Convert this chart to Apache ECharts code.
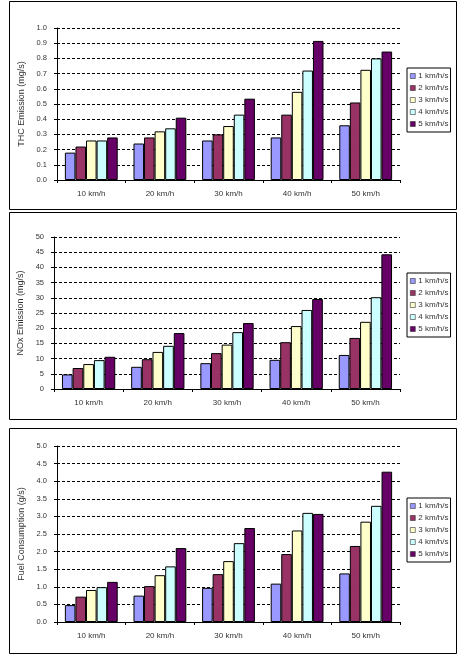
<!DOCTYPE html>
<html><head><meta charset="utf-8">
<script src="https://cdn.jsdelivr.net/npm/echarts@6/dist/echarts.min.js"></script>
<style>html,body{margin:0;padding:0;background:#fff}#c{width:467px;height:663px}</style>
</head><body><div id="c"></div>
<script>
const categories = ['10 km/h','20 km/h','30 km/h','40 km/h','50 km/h'];
const seriesNames = ['1 km/h/s','2 km/h/s','3 km/h/s','4 km/h/s','5 km/h/s'];
const colors = ['#9999FF','#993366','#FFFFCC','#CCFFFF','#660066'];

// THC emission (mg/s), one array per acceleration
const thc1 = [0.18,0.24,0.26,0.28,0.36];
const thc2 = [0.22,0.28,0.30,0.43,0.51];
const thc3 = [0.26,0.32,0.355,0.58,0.725];
const thc4 = [0.26,0.34,0.43,0.72,0.80];
const thc5 = [0.28,0.41,0.535,0.915,0.845];

// NOx emission (mg/s)
const nox1 = [4.8,7.3,8.5,9.6,11.2];
const nox2 = [6.9,9.8,11.8,15.4,16.8];
const nox3 = [8.2,12.2,14.6,20.7,22.1];
const nox4 = [9.5,14.2,18.7,26.0,30.2];
const nox5 = [10.6,18.4,21.7,29.6,44.3];

// Fuel consumption (g/s)
const fuel1 = [0.48,0.75,0.97,1.09,1.38];
const fuel2 = [0.72,1.02,1.36,1.93,2.16];
const fuel3 = [0.91,1.33,1.73,2.60,2.85];
const fuel4 = [0.99,1.58,2.24,3.10,3.30];
const fuel5 = [1.14,2.10,2.67,3.07,4.27];

const panels = [
  {name:'THC Emission (mg/s)', max:1.0, interval:0.1, dec:1, data:[thc1,thc2,thc3,thc4,thc5],
   grid:{left:57, top:28, width:343, height:152}, legendTop:68, box:[9,1,447,208]},
  {name:'NOx Emission (mg/s)', max:50, interval:5, dec:0, data:[nox1,nox2,nox3,nox4,nox5],
   grid:{left:54, top:237, width:346, height:152}, legendTop:273, box:[9,212,447,207]},
  {name:'Fuel Consumption (g/s)', max:5.0, interval:0.5, dec:1, data:[fuel1,fuel2,fuel3,fuel4,fuel5],
   grid:{left:57, top:446, width:343, height:176}, legendTop:498, box:[9,428,447,225]}
];

const font = 'Liberation Sans, Arial, sans-serif';
const grids=[], xAxes=[], yAxes=[], series=[], legends=[], graphics=[];
panels.forEach((p,i)=>{
  grids.push(Object.assign({containLabel:false}, p.grid));
  xAxes.push({type:'category', gridIndex:i, data:categories,
    axisLine:{lineStyle:{color:'#000',width:1}},
    axisTick:{show:true, inside:false, length:3, lineStyle:{color:'#000'}},
    axisLabel:{color:'#333', fontSize:8, fontFamily:font, margin:10},
    splitLine:{show:false}});
  yAxes.push({type:'value', gridIndex:i, min:0, max:p.max, interval:p.interval,
    name:p.name, nameLocation:'middle', nameGap:29, nameRotate:90,
    nameTextStyle:{color:'#333', fontSize:9, fontFamily:font},
    axisLine:{show:true, lineStyle:{color:'#000',width:1}},
    axisTick:{show:true, length:3, lineStyle:{color:'#000'}},
    axisLabel:{color:'#333', fontSize:7.5, fontFamily:font, margin:10,
      formatter:v=>v.toFixed(p.dec)},
    splitLine:{show:true, lineStyle:{color:'#000', width:1, type:[3,2]}}});
  p.data.forEach((arr,k)=>{
    series.push({type:'bar', name:seriesNames[k], xAxisIndex:i, yAxisIndex:i, data:arr,
      barGap:'0%', barCategoryGap:'23%',
      itemStyle:{color:colors[k], borderColor:'#000', borderWidth:1},
      emphasis:{disabled:true}, animation:false});
  });
  legends.push({orient:'vertical', left:407, top:p.legendTop, data:seriesNames,
    backgroundColor:'#fff', borderColor:'#000', borderWidth:1, padding:[4,2,4,3],
    itemGap:4, itemWidth:5, itemHeight:5, icon:'rect',
    itemStyle:{borderColor:'#333', borderWidth:0.6},
    textStyle:{color:'#333', fontSize:8, fontFamily:font, padding:[0,0,0,-2]},
    selectedMode:false});
  graphics.push({type:'rect', shape:{x:p.box[0]+0.5, y:p.box[1]+0.5, width:p.box[2], height:p.box[3]},
    style:{fill:null, stroke:'#000', lineWidth:1}, silent:true, z:-1});
});

const chart = echarts.init(document.getElementById('c'), null, {renderer:'canvas'});
chart.setOption({animation:false, backgroundColor:'#fff', grid:grids, xAxis:xAxes, yAxis:yAxes,
  series:series, legend:legends, graphic:graphics});
</script></body></html>
